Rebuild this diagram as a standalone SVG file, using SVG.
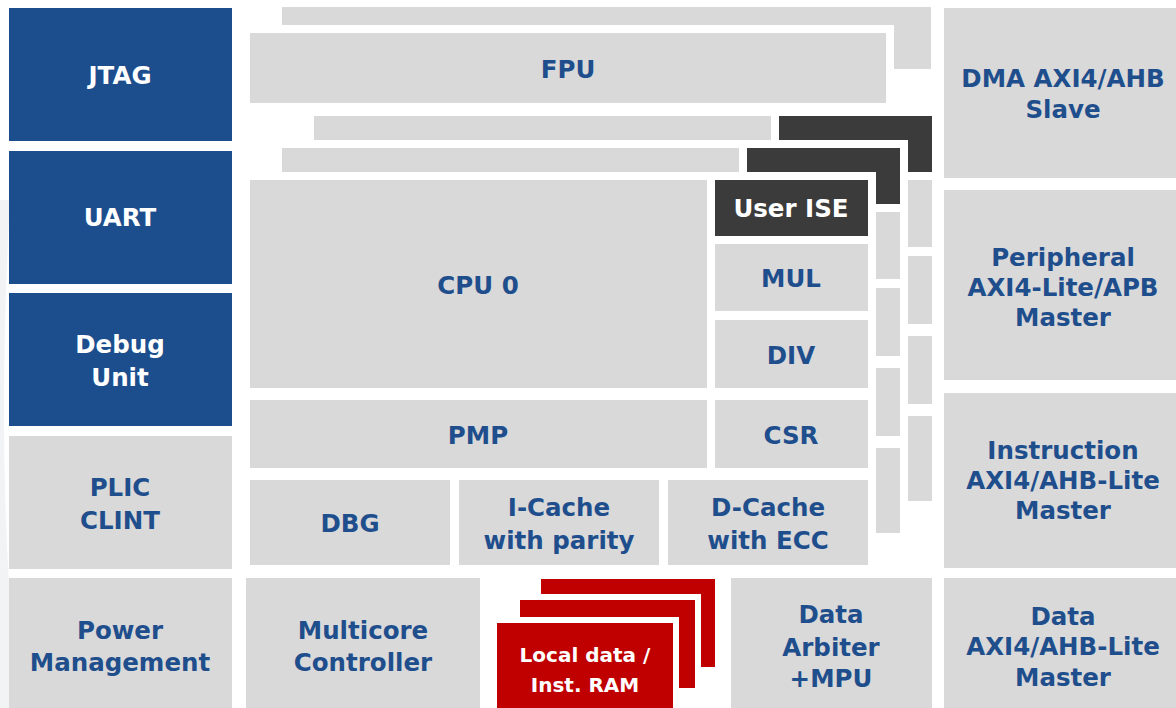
<svg xmlns="http://www.w3.org/2000/svg" xmlns:xlink="http://www.w3.org/1999/xlink" width="1176" height="708" viewBox="0 0 1176 708">
<style>
.g{fill:#d9d9d9}
.b{fill:#1c4e8e}
.d{fill:#3b3b3b}
.r{fill:#c00000}
.w{fill:#ffffff}
text{font-family:"DejaVu Sans","Liberation Sans",sans-serif;font-weight:bold;font-size:24.5px;text-anchor:middle}
.tb{fill:#1f4e8d}
.tw{fill:#ffffff}
.sm{font-size:20px}
</style>
<defs>
<g id="cpuLayer">
<rect class="g" x="250" y="180" width="457" height="208"/>
<rect class="d" x="715" y="180" width="153" height="56"/>
<rect class="g" x="715" y="244" width="153" height="67"/>
<rect class="g" x="715" y="320" width="153" height="68"/>
<rect class="g" x="250" y="400" width="457" height="68"/>
<rect class="g" x="715" y="400" width="153" height="68"/>
<rect class="g" x="250" y="480" width="200" height="85"/>
<rect class="g" x="459" y="480" width="200" height="85"/>
<rect class="g" x="668" y="480" width="200" height="85"/>
</g>
</defs>
<rect width="1176" height="708" fill="#ffffff"/>
<path d="M 0 200 L 10 200 Q -2 420 10 600 Q 16 660 30 708 L 0 708 Z" fill="#f2f3f5"/>

<g id="connectors"></g>

<!-- left column -->
<g id="jtag"><rect class="b" x="9" y="8" width="223" height="133"/><text class="tw" x="120" y="84">JTAG</text></g>
<g id="uart"><rect class="b" x="9" y="151" width="223" height="133"/><text class="tw" x="120" y="226">UART</text></g>
<g id="debug-unit"><rect class="b" x="9" y="293" width="223" height="133"/><text class="tw" x="120" y="353">Debug</text><text class="tw" x="120" y="386">Unit</text></g>
<g id="plic-clint"><rect class="g" x="9" y="436" width="223" height="133"/><text class="tb" x="120" y="496">PLIC</text><text class="tb" x="120" y="529">CLINT</text></g>
<g id="power-management"><rect class="g" x="9" y="578" width="223" height="130"/><text class="tb" x="120" y="639">Power</text><text class="tb" x="120" y="671">Management</text></g>

<!-- FPU stack -->
<g id="fpu">
<rect class="g" x="282" y="7" width="649" height="62"/>
<rect class="w" x="242" y="25" width="652" height="86"/>
<rect class="g" x="250" y="33" width="636" height="70"/>
<text class="tb" x="568" y="78">FPU</text>
</g>

<!-- CPU stack back layers -->
<g id="cpu-back-layers">
<use xlink:href="#cpuLayer" href="#cpuLayer" x="64" y="-64"/>
<rect class="w" x="274" y="140" width="634" height="401"/>
<use xlink:href="#cpuLayer" href="#cpuLayer" x="32" y="-32"/>
<rect class="w" x="242" y="172" width="634" height="401"/>
</g>

<!-- CPU front layer -->
<g id="cpu0"><rect class="g" x="250" y="180" width="457" height="208"/><text class="tb" x="478" y="294">CPU 0</text></g>
<g id="user-ise"><rect class="d" x="715" y="180" width="153" height="56"/><text class="tw" x="791" y="217">User ISE</text></g>
<g id="mul"><rect class="g" x="715" y="244" width="153" height="67"/><text class="tb" x="791" y="287">MUL</text></g>
<g id="div"><rect class="g" x="715" y="320" width="153" height="68"/><text class="tb" x="791" y="364">DIV</text></g>
<g id="pmp"><rect class="g" x="250" y="400" width="457" height="68"/><text class="tb" x="478" y="444">PMP</text></g>
<g id="csr"><rect class="g" x="715" y="400" width="153" height="68"/><text class="tb" x="791" y="444">CSR</text></g>
<g id="dbg"><rect class="g" x="250" y="480" width="200" height="85"/><text class="tb" x="350" y="532">DBG</text></g>
<g id="icache"><rect class="g" x="459" y="480" width="200" height="85"/><text class="tb" x="559" y="516">I-Cache</text><text class="tb" x="559" y="549">with parity</text></g>
<g id="dcache"><rect class="g" x="668" y="480" width="200" height="85"/><text class="tb" x="768" y="516">D-Cache</text><text class="tb" x="768" y="549">with ECC</text></g>

<!-- bottom row -->
<g id="multicore-controller"><rect class="g" x="246" y="578" width="234" height="130"/><text class="tb" x="363" y="639">Multicore</text><text class="tb" x="363" y="671">Controller</text></g>
<g id="local-ram">
<rect class="r" x="541" y="579" width="174" height="88"/>
<rect class="w" x="514" y="594" width="187" height="100"/>
<rect class="r" x="520" y="600" width="175" height="88"/>
<rect class="w" x="491" y="617" width="188" height="97"/>
<rect class="r" x="497" y="623" width="176" height="85"/>
<text class="tw sm" x="585" y="662">Local data /</text>
<text class="tw sm" x="585" y="692">Inst. RAM</text>
</g>
<g id="data-arbiter"><rect class="g" x="731" y="578" width="201" height="130"/><text class="tb" x="831" y="623">Data</text><text class="tb" x="831" y="656">Arbiter</text><text class="tb" x="831" y="687">+MPU</text></g>

<!-- right column -->
<g id="dma-slave"><rect class="g" x="944" y="8" width="232" height="170"/><text class="tb" x="1063" y="87">DMA AXI4/AHB</text><text class="tb" x="1063" y="118">Slave</text></g>
<g id="peripheral-master"><rect class="g" x="944" y="190" width="232" height="190"/><text class="tb" x="1063" y="266">Peripheral</text><text class="tb" x="1063" y="296">AXI4-Lite/APB</text><text class="tb" x="1063" y="326">Master</text></g>
<g id="instruction-master"><rect class="g" x="944" y="393" width="232" height="175"/><text class="tb" x="1063" y="459">Instruction</text><text class="tb" x="1063" y="489">AXI4/AHB-Lite</text><text class="tb" x="1063" y="519">Master</text></g>
<g id="data-master"><rect class="g" x="944" y="578" width="232" height="130"/><text class="tb" x="1063" y="625">Data</text><text class="tb" x="1063" y="655">AXI4/AHB-Lite</text><text class="tb" x="1063" y="686">Master</text></g>
</svg>
